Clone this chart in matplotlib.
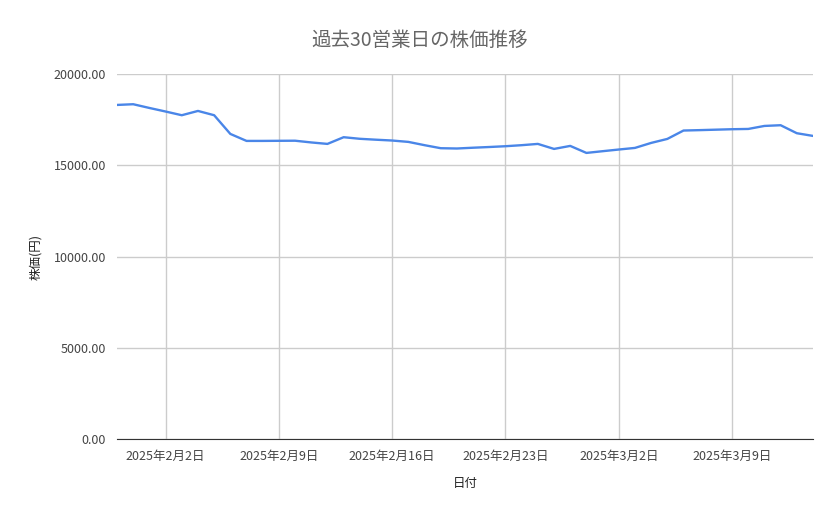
import matplotlib
matplotlib.use("Agg")
import matplotlib.pyplot as plt
import matplotlib.dates as mdates
import pandas as pd

plt.rcParams['font.family'] = ['Noto Sans CJK JP', 'DejaVu Sans']

dates = pd.date_range("2025-01-30", "2025-03-14", freq="D")
prices = [18316, 18355, 18150, 17955, 17752, 17987, 17752, 16727, 16344, 16344, 16350,
          16355, 16260, 16180, 16547, 16460, 16410, 16365, 16290, 16110, 15944, 15928,
          15971, 16010, 16053, 16110, 16180, 15905, 16070, 15686, 15780, 15872, 15960,
          16234, 16453, 16913, 16935, 16960, 16985, 17000, 17165, 17204, 16766, 16618]
tick_dates = pd.to_datetime(["2025-02-02", "2025-02-09", "2025-02-16", "2025-02-23", "2025-03-02", "2025-03-09"])
tick_labels = ["2025年2月2日", "2025年2月9日", "2025年2月16日", "2025年2月23日", "2025年3月2日", "2025年3月9日"]
y_ticks = [0, 5000, 10000, 15000, 20000]

fig = plt.figure(figsize=(8.39, 5.19), dpi=100)
ax = fig.add_axes([0.1395, 0.154, 0.8295, 0.703])
ax.plot(dates, prices, color="#4a86e8", lw=1.7)
ax.set_xlim(dates[0], dates[-1])
ax.set_ylim(0, 20000)
ax.set_yticks(y_ticks)
ax.set_yticklabels([f"{v:.2f}" for v in y_ticks])
ax.set_xticks(tick_dates)
ax.set_xticklabels(tick_labels)
ax.grid(True, color="#cccccc", lw=1)
for s in ["top", "right", "left"]:
    ax.spines[s].set_visible(False)
ax.spines["bottom"].set_color("#333333")
ax.tick_params(length=0, colors="#444444", labelsize=9, pad=8)
ax.set_xlabel("日付", fontsize=9, color="#222222", labelpad=10)
ax.set_ylabel("株価(円)", fontsize=9, color="#222222", labelpad=8)
fig.text(0.5, 0.923, "過去30営業日の株価推移", ha="center", va="center", fontsize=14, color="#666666")
fig.savefig("out.png", dpi=100, facecolor="white")
